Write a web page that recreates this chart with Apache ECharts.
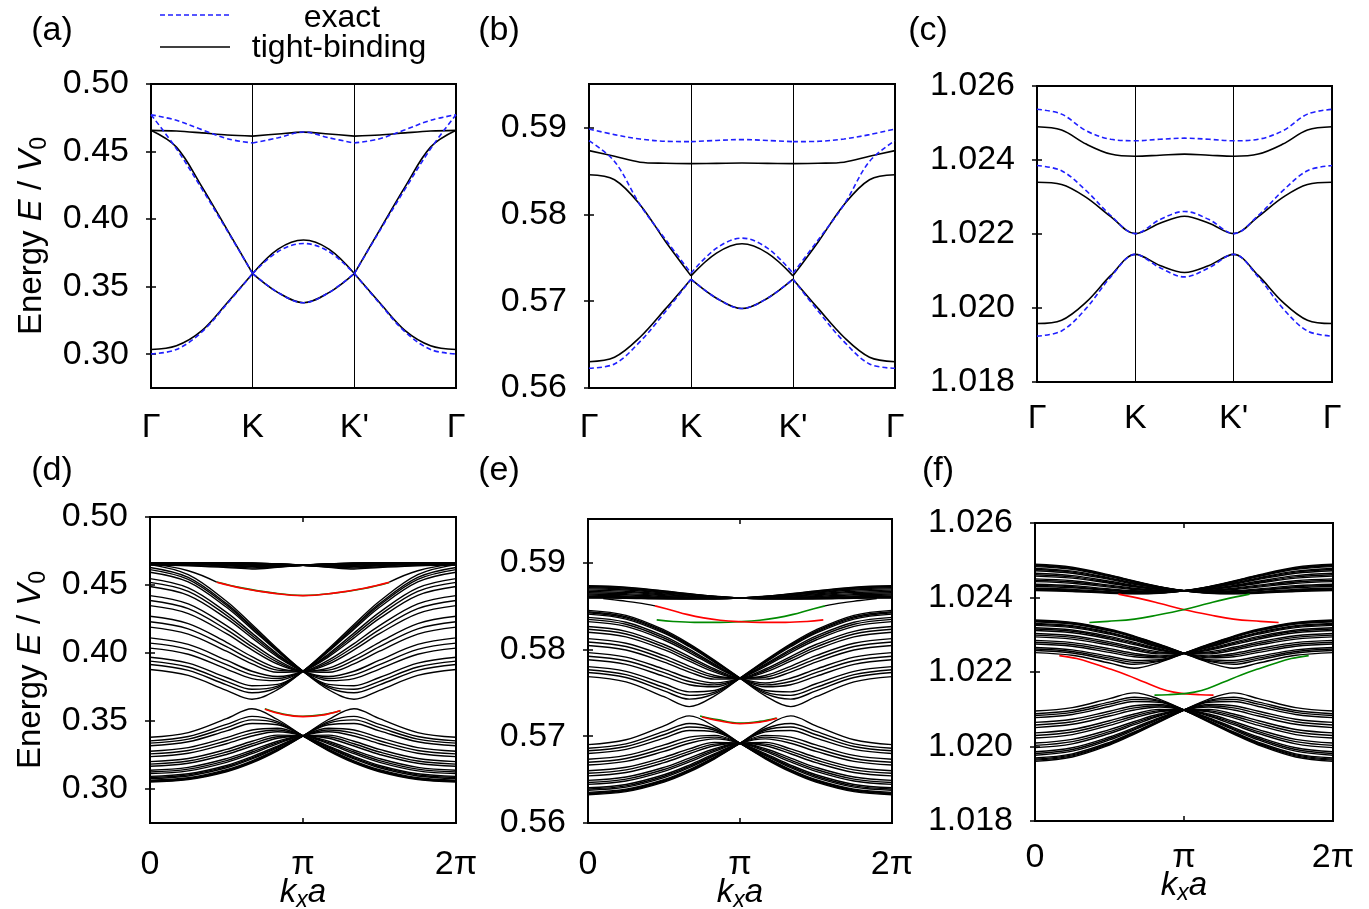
<!DOCTYPE html>
<html><head><meta charset="utf-8">
<script src="https://cdn.jsdelivr.net/npm/echarts@6/dist/echarts.min.js"></script>
<style>html,body{margin:0;padding:0;background:#fff}#c{width:1369px;height:909px}</style>
</head><body><div id="c"></div>
<script>
// ================= DATA =================
// Top row: path Gamma-K-K'-Gamma, x = 0..3
const TOP_X = [0,0.25,0.5,0.75,1,1.25,1.5,1.75,2,2.25,2.5,2.75,3];
const TOP_LABELS = ['Γ','K',"K'",'Γ'];
// (a)
const A_TB_1 = [0.4657,0.4652,0.4638,0.4622,0.4614,0.4630,0.4644,0.4630,0.4614,0.4622,0.4638,0.4652,0.4657];
const A_TB_2 = [0.4657,0.4533,0.4241,0.3921,0.3597,0.3778,0.3845,0.3778,0.3597,0.3921,0.4241,0.4533,0.4657];
const A_TB_3 = [0.3035,0.3063,0.3175,0.3381,0.3597,0.3456,0.3381,0.3456,0.3597,0.3381,0.3175,0.3063,0.3035];
const A_EX_1 = [0.4773,0.4731,0.4662,0.4595,0.4563,0.4602,0.4645,0.4602,0.4563,0.4595,0.4662,0.4731,0.4773];
const A_EX_2 = [0.4773,0.4521,0.4224,0.3914,0.3597,0.3760,0.3820,0.3760,0.3597,0.3914,0.4224,0.4521,0.4773];
const A_EX_3 = [0.3002,0.3035,0.3165,0.3375,0.3597,0.3456,0.3381,0.3456,0.3597,0.3375,0.3165,0.3035,0.3002];
// (b)
const B_TB_1 = [0.58733,0.58668,0.58600,0.58587,0.58583,0.58586,0.58590,0.58586,0.58583,0.58587,0.58600,0.58668,0.58733];
const B_TB_2 = [0.58456,0.58398,0.58110,0.57687,0.57291,0.57553,0.57660,0.57553,0.57291,0.57687,0.58110,0.58398,0.58456];
const B_TB_3 = [0.56303,0.56354,0.56584,0.56911,0.57253,0.57034,0.56915,0.57034,0.57253,0.56911,0.56584,0.56354,0.56303];
const B_EX_1 = [0.58982,0.58917,0.58867,0.58840,0.58836,0.58850,0.58860,0.58850,0.58836,0.58840,0.58867,0.58917,0.58982];
const B_EX_2 = [0.58848,0.58609,0.58110,0.57710,0.57322,0.57610,0.57726,0.57610,0.57322,0.57710,0.58110,0.58609,0.58848];
const B_EX_3 = [0.56227,0.56277,0.56534,0.56880,0.57253,0.57034,0.56915,0.57034,0.57253,0.56880,0.56534,0.56277,0.56227];
// (c)
const C_TB_1 = [1.02490,1.02481,1.02443,1.02416,1.02410,1.02413,1.02416,1.02413,1.02410,1.02416,1.02443,1.02481,1.02490];
const C_TB_2 = [1.02340,1.02334,1.02299,1.02247,1.02201,1.02229,1.02248,1.02229,1.02201,1.02247,1.02299,1.02334,1.02340];
const C_TB_3 = [1.01958,1.01967,1.02016,1.02088,1.02145,1.02115,1.02096,1.02115,1.02145,1.02088,1.02016,1.01967,1.01958];
const C_EX_1 = [1.02537,1.02524,1.02479,1.02456,1.02452,1.02456,1.02459,1.02456,1.02452,1.02456,1.02479,1.02524,1.02537];
const C_EX_2 = [1.02385,1.02371,1.02317,1.02250,1.02201,1.02239,1.02261,1.02239,1.02201,1.02250,1.02317,1.02371,1.02385];
const C_EX_3 = [1.01924,1.01938,1.01999,1.02084,1.02145,1.02109,1.02084,1.02109,1.02145,1.02084,1.01999,1.01938,1.01924];

// Bottom row: k_x a in units of pi
const KX = [0,0.25,0.5,0.6667,0.8333,1,1.1667,1.3333,1.5,1.75,2];
const KX_LABELS = ['0','π','2π'];

// (d) ribbon bands
const D_TOP = [
[0.4657,0.4659,0.4662,0.4661,0.4656,0.4645,0.4630,0.4618,0.4629,0.4642,0.4646],
[0.4658,0.4660,0.4662,0.4661,0.4655,0.4645,0.4632,0.4626,0.4634,0.4646,0.4649],
[0.4659,0.4660,0.4662,0.4660,0.4655,0.4645,0.4635,0.4634,0.4641,0.4650,0.4653],
[0.4660,0.4661,0.4662,0.4660,0.4654,0.4645,0.4638,0.4640,0.4646,0.4654,0.4656],
[0.4661,0.4662,0.4662,0.4659,0.4653,0.4645,0.4641,0.4645,0.4651,0.4657,0.4659],
[0.4662,0.4662,0.4661,0.4657,0.4651,0.4645,0.4644,0.4649,0.4655,0.4660,0.4661],
[0.4662,0.4662,0.4660,0.4655,0.4649,0.4645,0.4647,0.4653,0.4658,0.4661,0.4662],
[0.4662,0.4661,0.4658,0.4653,0.4647,0.4645,0.4649,0.4655,0.4660,0.4662,0.4662],
[0.4661,0.4660,0.4655,0.4649,0.4644,0.4645,0.4651,0.4657,0.4661,0.4662,0.4662],
[0.4659,0.4657,0.4651,0.4645,0.4641,0.4645,0.4653,0.4659,0.4662,0.4662,0.4661],
[0.4656,0.4654,0.4646,0.4640,0.4638,0.4645,0.4654,0.4660,0.4662,0.4661,0.4660],
[0.4653,0.4650,0.4641,0.4634,0.4635,0.4645,0.4655,0.4660,0.4662,0.4660,0.4659],
[0.4649,0.4646,0.4634,0.4626,0.4632,0.4645,0.4655,0.4661,0.4662,0.4660,0.4658],
[0.4646,0.4642,0.4629,0.4618,0.4630,0.4645,0.4656,0.4661,0.4662,0.4659,0.4657]];
const D_UPPER = [
[0.4650,0.4576,0.4380,0.4209,0.4031,0.3866,0.3730,0.3660,0.3725,0.3835,0.3879],
[0.4629,0.4556,0.4363,0.4196,0.4023,0.3866,0.3746,0.3708,0.3766,0.3872,0.3915],
[0.4594,0.4523,0.4336,0.4175,0.4011,0.3866,0.3769,0.3759,0.3820,0.3926,0.3969],
[0.4547,0.4479,0.4299,0.4146,0.3993,0.3866,0.3797,0.3812,0.3882,0.3991,0.4036],
[0.4489,0.4424,0.4254,0.4111,0.3972,0.3866,0.3827,0.3866,0.3947,0.4063,0.4111],
[0.4422,0.4361,0.4201,0.4069,0.3947,0.3866,0.3858,0.3920,0.4013,0.4139,0.4190],
[0.4348,0.4290,0.4142,0.4023,0.3919,0.3866,0.3889,0.3973,0.4079,0.4216,0.4270],
[0.4270,0.4216,0.4079,0.3973,0.3889,0.3866,0.3919,0.4023,0.4142,0.4290,0.4348],
[0.4190,0.4139,0.4013,0.3920,0.3858,0.3866,0.3947,0.4069,0.4201,0.4361,0.4422],
[0.4111,0.4063,0.3947,0.3866,0.3827,0.3866,0.3972,0.4111,0.4254,0.4424,0.4489],
[0.4036,0.3991,0.3882,0.3812,0.3797,0.3866,0.3993,0.4146,0.4299,0.4479,0.4547],
[0.3969,0.3926,0.3820,0.3759,0.3769,0.3866,0.4011,0.4175,0.4336,0.4523,0.4594],
[0.3915,0.3872,0.3766,0.3708,0.3746,0.3866,0.4023,0.4196,0.4363,0.4556,0.4629],
[0.3879,0.3835,0.3725,0.3660,0.3730,0.3866,0.4031,0.4209,0.4380,0.4576,0.4650],
[0.4613,0.4541,0.4351,0.4186,0.4018,0.3866,0.3757,0.3733,0.3792,0.3897,0.3940],
[0.4519,0.4453,0.4277,0.4129,0.3983,0.3866,0.3812,0.3839,0.3914,0.4027,0.4073],
[0.4386,0.4326,0.4172,0.4046,0.3933,0.3866,0.3874,0.3947,0.4046,0.4178,0.4230],
[0.4230,0.4178,0.4046,0.3947,0.3874,0.3866,0.3933,0.4046,0.4172,0.4326,0.4386],
[0.4073,0.4027,0.3914,0.3839,0.3812,0.3866,0.3983,0.4129,0.4277,0.4453,0.4519],
[0.3940,0.3897,0.3792,0.3733,0.3757,0.3866,0.4018,0.4186,0.4351,0.4541,0.4613]];
const D_LOWER = [
[0.3052,0.3069,0.3127,0.3192,0.3281,0.3390,0.3511,0.3590,0.3517,0.3415,0.3380],
[0.3057,0.3074,0.3132,0.3198,0.3285,0.3390,0.3495,0.3534,0.3475,0.3386,0.3354],
[0.3065,0.3083,0.3142,0.3207,0.3293,0.3390,0.3472,0.3482,0.3427,0.3347,0.3318],
[0.3077,0.3096,0.3156,0.3221,0.3303,0.3390,0.3447,0.3434,0.3378,0.3304,0.3278],
[0.3093,0.3112,0.3173,0.3238,0.3316,0.3390,0.3421,0.3390,0.3333,0.3263,0.3238],
[0.3113,0.3133,0.3196,0.3260,0.3332,0.3390,0.3396,0.3351,0.3291,0.3224,0.3201],
[0.3138,0.3159,0.3223,0.3285,0.3351,0.3390,0.3373,0.3316,0.3254,0.3189,0.3167],
[0.3167,0.3189,0.3254,0.3316,0.3373,0.3390,0.3351,0.3285,0.3223,0.3159,0.3138],
[0.3201,0.3224,0.3291,0.3351,0.3396,0.3390,0.3332,0.3260,0.3196,0.3133,0.3113],
[0.3238,0.3263,0.3333,0.3390,0.3421,0.3390,0.3316,0.3238,0.3173,0.3112,0.3093],
[0.3278,0.3304,0.3378,0.3434,0.3447,0.3390,0.3303,0.3221,0.3156,0.3096,0.3077],
[0.3318,0.3347,0.3427,0.3482,0.3472,0.3390,0.3293,0.3207,0.3142,0.3083,0.3065],
[0.3354,0.3386,0.3475,0.3534,0.3495,0.3390,0.3285,0.3198,0.3132,0.3074,0.3057],
[0.3380,0.3415,0.3517,0.3590,0.3511,0.3390,0.3281,0.3192,0.3127,0.3069,0.3052],
[0.3060,0.3078,0.3137,0.3202,0.3288,0.3390,0.3484,0.3508,0.3451,0.3367,0.3337],
[0.3084,0.3104,0.3164,0.3229,0.3309,0.3390,0.3434,0.3411,0.3355,0.3283,0.3258],
[0.3125,0.3146,0.3209,0.3272,0.3341,0.3390,0.3384,0.3333,0.3272,0.3206,0.3183],
[0.3183,0.3206,0.3272,0.3333,0.3384,0.3390,0.3341,0.3272,0.3209,0.3146,0.3125],
[0.3258,0.3283,0.3355,0.3411,0.3434,0.3390,0.3309,0.3229,0.3164,0.3104,0.3084],
[0.3337,0.3367,0.3451,0.3508,0.3484,0.3390,0.3288,0.3202,0.3137,0.3078,0.3060]];
const D_EDGE_UP_GREEN = [[0.436,0.4522],[0.6,0.4479],[0.8,0.4442],[1.0,0.4423],[1.2,0.4439],[1.4,0.4474],[1.564,0.4518]];
const D_EDGE_UP_RED   = [[0.436,0.4520],[0.6,0.4476],[0.8,0.4440],[1.0,0.4422],[1.2,0.4440],[1.4,0.4476],[1.564,0.4520]];
const D_EDGE_LO_GREEN = [[0.750,0.3590],[0.87,0.3552],[1.0,0.3535],[1.12,0.3545],[1.245,0.3576]];
const D_EDGE_LO_RED   = [[0.752,0.3586],[0.87,0.3548],[1.0,0.3532],[1.12,0.3542],[1.245,0.3578]];
const D_LINK_L = [[0,0.4657],[0.25,0.4605],[0.436,0.4521]];
const D_LINK_R = [[1.564,0.4521],[1.75,0.4605],[2,0.4657]];

// (e) ribbon bands
const E_TOP = [
[0.58731,0.58715,0.58673,0.58640,0.58611,0.58590,0.58581,0.58580,0.58580,0.58587,0.58591],
[0.58726,0.58710,0.58669,0.58637,0.58609,0.58590,0.58581,0.58580,0.58582,0.58591,0.58595],
[0.58719,0.58703,0.58664,0.58634,0.58608,0.58590,0.58582,0.58582,0.58586,0.58596,0.58602],
[0.58708,0.58693,0.58657,0.58629,0.58605,0.58590,0.58584,0.58585,0.58592,0.58605,0.58611],
[0.58695,0.58682,0.58648,0.58623,0.58602,0.58590,0.58586,0.58590,0.58599,0.58615,0.58623],
[0.58681,0.58669,0.58638,0.58616,0.58599,0.58590,0.58589,0.58596,0.58608,0.58628,0.58636],
[0.58666,0.58655,0.58628,0.58609,0.58596,0.58590,0.58592,0.58602,0.58618,0.58641,0.58651],
[0.58651,0.58641,0.58618,0.58602,0.58592,0.58590,0.58596,0.58609,0.58628,0.58655,0.58666],
[0.58636,0.58628,0.58608,0.58596,0.58589,0.58590,0.58599,0.58616,0.58638,0.58669,0.58681],
[0.58623,0.58615,0.58599,0.58590,0.58586,0.58590,0.58602,0.58623,0.58648,0.58682,0.58695],
[0.58611,0.58605,0.58592,0.58585,0.58584,0.58590,0.58605,0.58629,0.58657,0.58693,0.58708],
[0.58602,0.58596,0.58586,0.58582,0.58582,0.58590,0.58608,0.58634,0.58664,0.58703,0.58719],
[0.58595,0.58591,0.58582,0.58580,0.58581,0.58590,0.58609,0.58637,0.58669,0.58710,0.58726],
[0.58591,0.58587,0.58580,0.58580,0.58581,0.58590,0.58611,0.58640,0.58673,0.58715,0.58731]];
const E_UPPER = [
[0.58448,0.58391,0.58224,0.58063,0.57873,0.57667,0.57464,0.57340,0.57454,0.57624,0.57685],
[0.58432,0.58375,0.58210,0.58051,0.57864,0.57667,0.57489,0.57426,0.57521,0.57675,0.57732],
[0.58405,0.58348,0.58185,0.58029,0.57850,0.57667,0.57526,0.57510,0.57603,0.57746,0.57800],
[0.58367,0.58311,0.58151,0.57999,0.57829,0.57667,0.57568,0.57591,0.57688,0.57826,0.57879],
[0.58319,0.58264,0.58107,0.57962,0.57803,0.57667,0.57612,0.57667,0.57772,0.57910,0.57962],
[0.58262,0.58207,0.58055,0.57916,0.57773,0.57667,0.57656,0.57738,0.57852,0.57992,0.58044],
[0.58196,0.58143,0.57995,0.57864,0.57737,0.57667,0.57698,0.57804,0.57927,0.58070,0.58123],
[0.58123,0.58070,0.57927,0.57804,0.57698,0.57667,0.57737,0.57864,0.57995,0.58143,0.58196],
[0.58044,0.57992,0.57852,0.57738,0.57656,0.57667,0.57773,0.57916,0.58055,0.58207,0.58262],
[0.57962,0.57910,0.57772,0.57667,0.57612,0.57667,0.57803,0.57962,0.58107,0.58264,0.58319],
[0.57879,0.57826,0.57688,0.57591,0.57568,0.57667,0.57829,0.57999,0.58151,0.58311,0.58367],
[0.57800,0.57746,0.57603,0.57510,0.57526,0.57667,0.57850,0.58029,0.58185,0.58348,0.58405],
[0.57732,0.57675,0.57521,0.57426,0.57489,0.57667,0.57864,0.58051,0.58210,0.58375,0.58432],
[0.57685,0.57624,0.57454,0.57340,0.57464,0.57667,0.57873,0.58063,0.58224,0.58391,0.58448],
[0.58420,0.58362,0.58198,0.58041,0.57858,0.57667,0.57507,0.57469,0.57561,0.57708,0.57764],
[0.58344,0.58288,0.58130,0.57982,0.57817,0.57667,0.57590,0.57629,0.57731,0.57868,0.57920],
[0.58230,0.58176,0.58026,0.57891,0.57756,0.57667,0.57678,0.57772,0.57890,0.58032,0.58084],
[0.58084,0.58032,0.57890,0.57772,0.57678,0.57667,0.57756,0.57891,0.58026,0.58176,0.58230],
[0.57920,0.57868,0.57731,0.57629,0.57590,0.57667,0.57817,0.57982,0.58130,0.58288,0.58344],
[0.57764,0.57708,0.57561,0.57469,0.57507,0.57667,0.57858,0.58041,0.58198,0.58362,0.58420]];
const E_LOWER = [
[0.56326,0.56361,0.56471,0.56588,0.56739,0.56918,0.57110,0.57233,0.57119,0.56958,0.56902],
[0.56336,0.56372,0.56481,0.56597,0.56746,0.56918,0.57085,0.57146,0.57054,0.56911,0.56860],
[0.56353,0.56389,0.56498,0.56614,0.56759,0.56918,0.57049,0.57065,0.56977,0.56848,0.56801],
[0.56377,0.56413,0.56523,0.56637,0.56776,0.56918,0.57009,0.56988,0.56899,0.56778,0.56734],
[0.56407,0.56444,0.56555,0.56667,0.56798,0.56918,0.56968,0.56918,0.56825,0.56709,0.56667],
[0.56445,0.56483,0.56594,0.56703,0.56824,0.56918,0.56928,0.56854,0.56756,0.56642,0.56602],
[0.56491,0.56529,0.56640,0.56747,0.56855,0.56918,0.56890,0.56797,0.56695,0.56582,0.56543],
[0.56543,0.56582,0.56695,0.56797,0.56890,0.56918,0.56855,0.56747,0.56640,0.56529,0.56491],
[0.56602,0.56642,0.56756,0.56854,0.56928,0.56918,0.56824,0.56703,0.56594,0.56483,0.56445],
[0.56667,0.56709,0.56825,0.56918,0.56968,0.56918,0.56798,0.56667,0.56555,0.56444,0.56407],
[0.56734,0.56778,0.56899,0.56988,0.57009,0.56918,0.56776,0.56637,0.56523,0.56413,0.56377],
[0.56801,0.56848,0.56977,0.57065,0.57049,0.56918,0.56759,0.56614,0.56498,0.56389,0.56353],
[0.56860,0.56911,0.57054,0.57146,0.57085,0.56918,0.56746,0.56597,0.56481,0.56372,0.56336],
[0.56902,0.56958,0.57119,0.57233,0.57110,0.56918,0.56739,0.56588,0.56471,0.56361,0.56326],
[0.56344,0.56379,0.56489,0.56605,0.56752,0.56918,0.57068,0.57105,0.57016,0.56881,0.56832],
[0.56391,0.56427,0.56538,0.56651,0.56786,0.56918,0.56989,0.56952,0.56861,0.56743,0.56700],
[0.56467,0.56505,0.56616,0.56724,0.56839,0.56918,0.56908,0.56825,0.56725,0.56612,0.56572],
[0.56572,0.56612,0.56725,0.56825,0.56908,0.56918,0.56839,0.56724,0.56616,0.56505,0.56467],
[0.56700,0.56743,0.56861,0.56952,0.56989,0.56918,0.56786,0.56651,0.56538,0.56427,0.56391],
[0.56832,0.56881,0.57016,0.57105,0.57068,0.56918,0.56752,0.56605,0.56489,0.56379,0.56344]];
const E_EDGE_UP_RED   = [[0.441,0.58500],[0.55,0.58450],[0.65,0.58402],[0.76,0.58362],[0.87,0.58335],[0.99,0.58319],[1.13,0.58310],[1.3,0.58310],[1.44,0.58320],[1.548,0.58339]];
const E_EDGE_UP_GREEN = [[0.452,0.58339],[0.56,0.58320],[0.7,0.58310],[0.87,0.58310],[1.01,0.58319],[1.13,0.58335],[1.24,0.58362],[1.35,0.58402],[1.45,0.58450],[1.559,0.58500]];
const E_EDGE_LO_GREEN = [[0.737,0.57233],[0.85,0.57190],[1.0,0.57150],[1.13,0.57170],[1.24,0.57210]];
const E_EDGE_LO_RED   = [[0.75,0.57220],[0.85,0.57180],[1.0,0.57143],[1.13,0.57160],[1.245,0.57205]];
const E_LINK_L = [[0.1,0.58585],[0.21,0.58561],[0.33,0.58535],[0.441,0.58500]];
const E_LINK_R = [[1.559,0.58500],[1.67,0.58535],[1.79,0.58561],[1.9,0.58585]];

// (f) ribbon bands
const F_TOP = [
[1.024892,1.024812,1.024607,1.024443,1.024293,1.024180,1.024116,1.024100,1.024115,1.024162,1.024188],
[1.024869,1.024790,1.024590,1.024431,1.024287,1.024180,1.024122,1.024109,1.024130,1.024183,1.024210],
[1.024830,1.024755,1.024564,1.024413,1.024277,1.024180,1.024131,1.024126,1.024155,1.024217,1.024247],
[1.024780,1.024708,1.024528,1.024388,1.024265,1.024180,1.024143,1.024150,1.024189,1.024263,1.024297],
[1.024719,1.024651,1.024485,1.024357,1.024249,1.024180,1.024158,1.024180,1.024231,1.024318,1.024357],
[1.024650,1.024588,1.024436,1.024323,1.024231,1.024180,1.024175,1.024213,1.024279,1.024382,1.024426],
[1.024575,1.024519,1.024384,1.024287,1.024213,1.024180,1.024194,1.024249,1.024331,1.024450,1.024499],
[1.024499,1.024450,1.024331,1.024249,1.024194,1.024180,1.024213,1.024287,1.024384,1.024519,1.024575],
[1.024426,1.024382,1.024279,1.024213,1.024175,1.024180,1.024231,1.024323,1.024436,1.024588,1.024650],
[1.024357,1.024318,1.024231,1.024180,1.024158,1.024180,1.024249,1.024357,1.024485,1.024651,1.024719],
[1.024297,1.024263,1.024189,1.024150,1.024143,1.024180,1.024265,1.024388,1.024528,1.024708,1.024780],
[1.024247,1.024217,1.024155,1.024126,1.024131,1.024180,1.024277,1.024413,1.024564,1.024755,1.024830],
[1.024210,1.024183,1.024130,1.024109,1.024122,1.024180,1.024287,1.024431,1.024590,1.024790,1.024869],
[1.024188,1.024162,1.024115,1.024100,1.024116,1.024180,1.024293,1.024443,1.024607,1.024812,1.024892],
[1.024851,1.024775,1.024578,1.024423,1.024283,1.024180,1.024125,1.024117,1.024141,1.024199,1.024227],
[1.024750,1.024681,1.024507,1.024373,1.024257,1.024180,1.024150,1.024165,1.024209,1.024290,1.024326],
[1.024612,1.024554,1.024410,1.024305,1.024223,1.024180,1.024185,1.024231,1.024305,1.024415,1.024463],
[1.024463,1.024415,1.024305,1.024231,1.024185,1.024180,1.024223,1.024305,1.024410,1.024554,1.024612],
[1.024326,1.024290,1.024209,1.024165,1.024150,1.024180,1.024257,1.024373,1.024507,1.024681,1.024750],
[1.024227,1.024199,1.024141,1.024117,1.024125,1.024180,1.024283,1.024423,1.024578,1.024775,1.024851]];
const F_MID = [
[1.023395,1.023331,1.023148,1.022965,1.022745,1.022500,1.022253,1.022100,1.022241,1.022448,1.022521],
[1.023376,1.023314,1.023131,1.022950,1.022735,1.022500,1.022285,1.022207,1.022324,1.022509,1.022578],
[1.023346,1.023284,1.023103,1.022926,1.022717,1.022500,1.022329,1.022310,1.022423,1.022595,1.022659],
[1.023305,1.023243,1.023065,1.022892,1.022693,1.022500,1.022380,1.022408,1.022526,1.022690,1.022752],
[1.023253,1.023192,1.023016,1.022848,1.022662,1.022500,1.022434,1.022500,1.022626,1.022788,1.022848],
[1.023189,1.023129,1.022956,1.022796,1.022626,1.022500,1.022487,1.022585,1.022720,1.022884,1.022943],
[1.023116,1.023055,1.022886,1.022734,1.022584,1.022500,1.022538,1.022663,1.022808,1.022973,1.023033],
[1.023033,1.022973,1.022808,1.022663,1.022538,1.022500,1.022584,1.022734,1.022886,1.023055,1.023116],
[1.022943,1.022884,1.022720,1.022585,1.022487,1.022500,1.022626,1.022796,1.022956,1.023129,1.023189],
[1.022848,1.022788,1.022626,1.022500,1.022434,1.022500,1.022662,1.022848,1.023016,1.023192,1.023253],
[1.022752,1.022690,1.022526,1.022408,1.022380,1.022500,1.022693,1.022892,1.023065,1.023243,1.023305],
[1.022659,1.022595,1.022423,1.022310,1.022329,1.022500,1.022717,1.022926,1.023103,1.023284,1.023346],
[1.022578,1.022509,1.022324,1.022207,1.022285,1.022500,1.022735,1.022950,1.023131,1.023314,1.023376],
[1.022521,1.022448,1.022241,1.022100,1.022253,1.022500,1.022745,1.022965,1.023148,1.023331,1.023395],
[1.023363,1.023301,1.023118,1.022939,1.022727,1.022500,1.022306,1.022259,1.022372,1.022550,1.022616],
[1.023280,1.023218,1.023042,1.022871,1.022678,1.022500,1.022407,1.022455,1.022576,1.022739,1.022800],
[1.023153,1.023093,1.022922,1.022766,1.022606,1.022500,1.022513,1.022625,1.022765,1.022929,1.022989],
[1.022989,1.022929,1.022765,1.022625,1.022513,1.022500,1.022606,1.022766,1.022922,1.023093,1.023153],
[1.022800,1.022739,1.022576,1.022455,1.022407,1.022500,1.022678,1.022871,1.023042,1.023218,1.023280],
[1.022616,1.022550,1.022372,1.022259,1.022306,1.022500,1.022727,1.022939,1.023118,1.023301,1.023363]];
const F_LOW = [
[1.019601,1.019718,1.020040,1.020333,1.020656,1.020980,1.021274,1.021440,1.021287,1.021045,1.020954],
[1.019635,1.019750,1.020067,1.020356,1.020671,1.020980,1.021238,1.021324,1.021192,1.020968,1.020880],
[1.019691,1.019803,1.020113,1.020393,1.020695,1.020980,1.021187,1.021208,1.021075,1.020859,1.020774],
[1.019765,1.019875,1.020176,1.020444,1.020727,1.020980,1.021126,1.021093,1.020947,1.020732,1.020647],
[1.019860,1.019966,1.020255,1.020508,1.020769,1.020980,1.021062,1.020979,1.020818,1.020596,1.020508],
[1.019970,1.020072,1.020348,1.020585,1.020818,1.020980,1.020996,1.020871,1.020690,1.020457,1.020367],
[1.020093,1.020191,1.020452,1.020671,1.020872,1.020980,1.020932,1.020767,1.020567,1.020320,1.020227],
[1.020227,1.020320,1.020567,1.020767,1.020932,1.020980,1.020872,1.020671,1.020452,1.020191,1.020093],
[1.020367,1.020457,1.020690,1.020871,1.020996,1.020980,1.020818,1.020585,1.020348,1.020072,1.019970],
[1.020508,1.020596,1.020818,1.020979,1.021062,1.020980,1.020769,1.020508,1.020255,1.019966,1.019860],
[1.020647,1.020732,1.020947,1.021093,1.021126,1.020980,1.020727,1.020444,1.020176,1.019875,1.019765],
[1.020774,1.020859,1.021075,1.021208,1.021187,1.020980,1.020695,1.020393,1.020113,1.019803,1.019691],
[1.020880,1.020968,1.021192,1.021324,1.021238,1.020980,1.020671,1.020356,1.020067,1.019750,1.019635],
[1.020954,1.021045,1.021287,1.021440,1.021274,1.020980,1.020656,1.020333,1.020040,1.019718,1.019601],
[1.019660,1.019774,1.020089,1.020372,1.020681,1.020980,1.021213,1.021266,1.021136,1.020917,1.020831],
[1.019811,1.019919,1.020214,1.020475,1.020747,1.020980,1.021094,1.021036,1.020883,1.020665,1.020578],
[1.020030,1.020131,1.020398,1.020627,1.020844,1.020980,1.020964,1.020819,1.020628,1.020388,1.020297],
[1.020297,1.020388,1.020628,1.020819,1.020964,1.020980,1.020844,1.020627,1.020398,1.020131,1.020030],
[1.020578,1.020665,1.020883,1.021036,1.021094,1.020980,1.020747,1.020475,1.020214,1.019919,1.019811],
[1.020831,1.020917,1.021136,1.021266,1.021213,1.020980,1.020681,1.020372,1.020089,1.019774,1.019660]];
const F_EDGE_UP_RED   = [[0.56,1.02409],[0.728,1.02395],[0.84,1.02384],[0.997,1.02368],[1.176,1.02353],[1.332,1.02342],[1.512,1.02336],[1.635,1.02333]];
const F_EDGE_UP_GREEN = [[0.365,1.02333],[0.488,1.02336],[0.668,1.02342],[0.824,1.02353],[1.003,1.02368],[1.16,1.02384],[1.272,1.02395],[1.44,1.02409]];
const F_EDGE_LO_RED   = [[0.163,1.02244],[0.28,1.02236],[0.392,1.02223],[0.504,1.02208],[0.616,1.02192],[0.728,1.02174],[0.84,1.02156],[0.93,1.02146],[0.996,1.02142],[1.108,1.02139],[1.198,1.02138]];
const F_EDGE_LO_GREEN = [[0.802,1.02138],[0.892,1.02139],[1.004,1.02142],[1.07,1.02146],[1.16,1.02156],[1.272,1.02174],[1.384,1.02192],[1.496,1.02208],[1.608,1.02223],[1.72,1.02236],[1.837,1.02244]];

// Tick labels
const Y_TICKS_AD = [0.30,0.35,0.40,0.45,0.50];
const Y_TICKS_BE = [0.56,0.57,0.58,0.59];
const Y_TICKS_CF = [1.018,1.020,1.022,1.024,1.026];

// ================= CHART =================
const FONT = 'Liberation Sans';
const FS = 34;
const BLUE = '#1f1fff';
const RED = '#ff0000';
const GREEN = '#008a00';

const PANELS = [
  {grid:{left:151,top:84,width:305,height:304}, ymin:0.275, ymax:0.50, yt:Y_TICKS_AD, dec:2, top:true, xm:23, split:true,
   tb:[A_TB_1,A_TB_2,A_TB_3], ex:[A_EX_1,A_EX_2,A_EX_3], ylab:true},
  {grid:{left:589,top:84,width:306,height:304}, ymin:0.56, ymax:0.595, yt:Y_TICKS_BE, dec:2, top:true, xm:23, split:true,
   tb:[B_TB_1,B_TB_2,B_TB_3], ex:[B_EX_1,B_EX_2,B_EX_3]},
  {grid:{left:1037,top:86,width:295,height:296}, ymin:1.018, ymax:1.026, yt:Y_TICKS_CF, dec:3, top:true, xm:20, split:false,
   tb:[C_TB_1,C_TB_2,C_TB_3], ex:[C_EX_1,C_EX_2,C_EX_3]},
  {grid:{left:150,top:517,width:306,height:306}, ymin:0.275, ymax:0.50, yt:Y_TICKS_AD, dec:2, top:false, xm:25, ng:50,
   bundles:[D_TOP,D_UPPER,D_LOWER], links:[D_LINK_L,D_LINK_R],
   edges:[[D_EDGE_UP_GREEN,GREEN],[D_EDGE_UP_RED,RED],[D_EDGE_LO_GREEN,GREEN],[D_EDGE_LO_RED,RED]], ylab:true},
  {grid:{left:588,top:519,width:304,height:304}, ymin:0.56, ymax:0.595, yt:Y_TICKS_BE, dec:2, top:false, xm:25, ng:50,
   bundles:[E_TOP,E_UPPER,E_LOWER], links:[E_LINK_L,E_LINK_R],
   edges:[[E_EDGE_UP_GREEN,GREEN],[E_EDGE_UP_RED,RED],[E_EDGE_LO_GREEN,GREEN],[E_EDGE_LO_RED,RED]]},
  {grid:{left:1035,top:523,width:298,height:298}, ymin:1.018, ymax:1.026, yt:Y_TICKS_CF, dec:3, top:false, xm:20, ng:45,
   bundles:[F_TOP,F_MID,F_LOW], links:[],
   edges:[[F_EDGE_UP_RED,RED],[F_EDGE_UP_GREEN,GREEN],[F_EDGE_LO_RED,RED],[F_EDGE_LO_GREEN,GREEN]]}
];

const grids = [], xAxes = [], yAxes = [], series = [];
const NFS = 33;
const richName = {
  n: {fontFamily: FONT, fontSize: NFS, color:'#000'},
  i: {fontFamily: FONT, fontSize: NFS, fontStyle:'italic', color:'#000'},
  s: {fontFamily: FONT, fontSize: 23, fontStyle:'italic', color:'#000', padding:[16,0,0,0]},
  s0:{fontFamily: FONT, fontSize: 23, color:'#000', padding:[16,0,0,0]}
};

PANELS.forEach((p, i) => {
  grids.push(Object.assign({show:true, borderColor:'#000', borderWidth:2, backgroundColor:'transparent',
    containLabel:false, outerBoundsMode:'none'}, p.grid));
  const xmax = p.top ? 3 : 2;
  xAxes.push({
    type:'value', gridIndex:i, min:0, max:xmax, interval:1, position:'bottom',
    axisLine:{show:false},
    axisTick: p.top ? {show:false} : {show:true, inside:true, length:5, lineStyle:{color:'#000', width:1.5}},
    axisLabel:{show:true, margin:p.xm, fontFamily:FONT, fontSize:FS, color:'#000',
      formatter: p.top ? (v => TOP_LABELS[Math.round(v)]) : (v => KX_LABELS[Math.round(v)])},
    splitLine: p.top ? {show:true, lineStyle:{color:'#000', width:1}} : {show:false},
    name: p.top ? '' : '{i|k}{s|x}{i|a}',
    nameLocation:'middle', nameGap: p.ng || 50, nameMoveOverlap:false,
    nameTextStyle:{rich:richName}
  });
  xAxes.push({
    type:'value', gridIndex:i, min:0, max:xmax, interval:1, position:'top',
    axisLine:{show:false},
    axisTick: p.top ? {show:false} : {show:true, inside:true, length:5, lineStyle:{color:'#000', width:1.5}},
    axisLabel:{show:false}, splitLine:{show:false}
  });
  yAxes.push({
    type:'value', gridIndex:i, min:p.ymin, max:p.ymax, position:'left',
    axisLine:{show:false},
    axisTick:{show:true, inside:true, length:5, customValues:p.yt, lineStyle:{color:'#000', width:1.5}},
    axisLabel:{show:true, margin:22, customValues:p.yt, fontFamily:FONT, fontSize:FS, color:'#000',
      formatter: v => v.toFixed(p.dec)},
    splitLine:{show:false},
    name: p.ylab ? '{n|Energy }{i|E}{n| / }{i|V}{s0|0}' : '',
    nameLocation:'middle', nameRotate:90, nameGap:100, nameMoveOverlap:false,
    nameTextStyle:{rich:richName}
  });
  yAxes.push({
    type:'value', gridIndex:i, min:p.ymin, max:p.ymax, position:'right',
    axisLine:{show:false},
    axisTick:{show:true, inside:true, length:5, customValues:p.yt, lineStyle:{color:'#000', width:1.5}},
    axisLabel:{show:false}, splitLine:{show:false}
  });

  const base = {type:'line', xAxisIndex:2*i, yAxisIndex:2*i, symbol:'none', silent:true, animation:false, clip:true};
  if (p.top) {
    const segs = p.split ? [[0,4],[4,8],[8,12]] : [[0,12]];
    const add = (arr, style) => {
      segs.forEach(([a,b]) => {
        const d = [];
        for (let k=a; k<=b; k++) d.push([TOP_X[k], arr[k]]);
        series.push(Object.assign({}, base, {data:d, smooth:0.35, lineStyle:style}));
      });
    };
    p.tb.forEach(arr => add(arr, {color:'#000', width:1.6}));
    p.ex.forEach(arr => add(arr, {color:BLUE, width:1.6, type:[5,3]}));
  } else {
    p.bundles.forEach(b => b.forEach(line => {
      series.push(Object.assign({}, base, {data: line.map((v,k)=>[KX[k], v]), smooth:0.35,
        lineStyle:{color:'#000', width:1.4}}));
    }));
    p.links.forEach(l => series.push(Object.assign({}, base, {data:l, smooth:0.4, lineStyle:{color:'#000', width:1.4}})));
    p.edges.forEach(([l,c]) => series.push(Object.assign({}, base, {data:l, smooth:0.4, lineStyle:{color:c, width:1.6}})));
  }
});

const panelLabels = [['(a)',52,31],['(b)',499,31],['(c)',928,31],['(d)',52,471],['(e)',499,471],['(f)',938,471]];
const graphic = [];
panelLabels.forEach(([t,x,y]) => graphic.push({type:'text', x:x, y:y, style:{text:t, font:FS+'px "'+FONT+'"', fill:'#000', align:'center', verticalAlign:'middle'}}));
// legend
graphic.push({type:'line', shape:{x1:160,y1:15,x2:230,y2:15}, style:{stroke:BLUE, lineWidth:1.6, lineDash:[5,3]}});
graphic.push({type:'text', x:342, y:18, style:{text:'exact', font:'32px "'+FONT+'"', fill:'#000', align:'center', verticalAlign:'middle'}});
graphic.push({type:'line', shape:{x1:160,y1:47,x2:230,y2:47}, style:{stroke:'#000', lineWidth:1.6}});
graphic.push({type:'text', x:339, y:48, style:{text:'tight-binding', font:'32px "'+FONT+'"', fill:'#000', align:'center', verticalAlign:'middle'}});

const chart = echarts.init(document.getElementById('c'), null, {renderer:'canvas'});
chart.setOption({animation:false, backgroundColor:'#fff', grid:grids, xAxis:xAxes, yAxis:yAxes, series:series, graphic:graphic});
</script></body></html>
